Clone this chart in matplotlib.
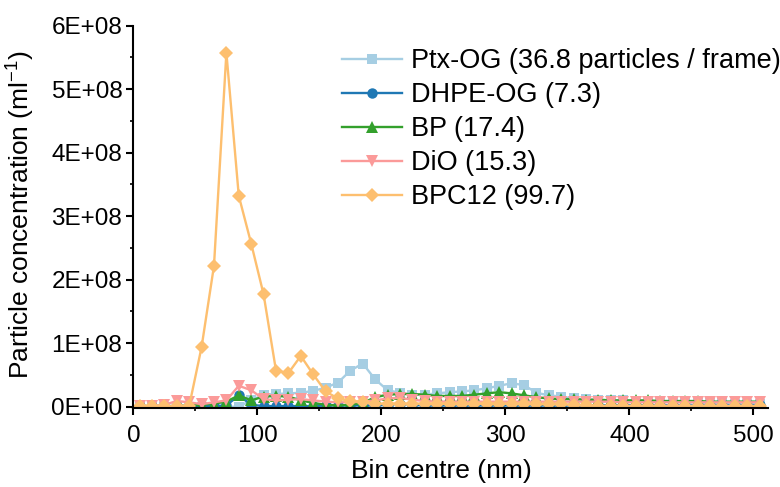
import matplotlib
matplotlib.use("Agg")
import matplotlib.pyplot as plt
from matplotlib.ticker import MultipleLocator, FuncFormatter
import numpy as np

plt.rcParams['font.family'] = ['Liberation Sans', 'DejaVu Sans']
plt.rcParams['mathtext.fontset'] = 'custom'
plt.rcParams['mathtext.rm'] = 'Liberation Sans'
plt.rcParams['mathtext.it'] = 'Liberation Sans:italic'
plt.rcParams['mathtext.bf'] = 'Liberation Sans:bold'

bin_centre = list(range(5, 506, 10))  # nm

# values in units of 1e8 particles/ml
ptx_og = [0.0, 0.0, 0.0, 0.0, 0.0, 0.0, 0.0, 0.0, 0.0, 0.10,
          0.19, 0.20, 0.21, 0.22, 0.25, 0.30, 0.38, 0.57, 0.68, 0.43,
          0.26, 0.22, 0.19, 0.19, 0.21, 0.23, 0.24, 0.26, 0.29, 0.33,
          0.37, 0.34, 0.22, 0.18, 0.16, 0.13, 0.12, 0.11, 0.10, 0.10,
          0.09, 0.09, 0.08, 0.08, 0.07, 0.07, 0.06, 0.06, 0.05, 0.05, 0.04]
dhpe_og = [0.01, 0.01, 0.01, 0.01, 0.01, 0.01, 0.01, 0.02, 0.18, 0.03,
           0.01, 0.01, 0.01, 0.01, 0.01, 0.02, 0.02, 0.02, 0.02, 0.02,
           0.03, 0.05, 0.03, 0.02, 0.02, 0.02, 0.02, 0.02, 0.02, 0.02,
           0.02, 0.02, 0.02, 0.02, 0.02, 0.02, 0.02, 0.02, 0.02, 0.02,
           0.02, 0.02, 0.02, 0.02, 0.02, 0.02, 0.02, 0.02, 0.02, 0.02, 0.02]
bp = [0.01, 0.01, 0.01, 0.01, 0.02, 0.03, 0.05, 0.08, 0.18, 0.10,
      0.16, 0.17, 0.16, 0.10, 0.06, 0.03, 0.02, 0.03, 0.06, 0.15,
      0.19, 0.20, 0.20, 0.19, 0.17, 0.17, 0.17, 0.19, 0.21, 0.23,
      0.21, 0.18, 0.15, 0.13, 0.12, 0.12, 0.11, 0.11, 0.10, 0.10,
      0.10, 0.10, 0.09, 0.09, 0.09, 0.09, 0.08, 0.08, 0.08, 0.08, 0.08]
dio = [0.01, 0.01, 0.03, 0.09, 0.07, 0.04, 0.07, 0.10, 0.33, 0.26,
       0.12, 0.10, 0.11, 0.12, 0.10, 0.08, 0.07, 0.07, 0.08, 0.10,
       0.13, 0.14, 0.11, 0.09, 0.08, 0.08, 0.08, 0.08, 0.08, 0.08,
       0.08, 0.08, 0.08, 0.08, 0.08, 0.08, 0.08, 0.08, 0.08, 0.07,
       0.07, 0.07, 0.07, 0.07, 0.07, 0.07, 0.07, 0.07, 0.07, 0.07, 0.07]
bpc12 = [0.005, 0.005, 0.005, 0.005, 0.01, 0.94, 2.22, 5.575, 3.32, 2.57,
         1.77, 0.57, 0.53, 0.80, 0.51, 0.24, 0.13, 0.09, 0.08, 0.05,
         0.05, 0.05, 0.05, 0.05, 0.05, 0.05, 0.05, 0.05, 0.05, 0.05,
         0.05, 0.05, 0.04, 0.04, 0.04, 0.03, 0.02, 0.01, 0.01, 0.01,
         0.01, 0.01, 0.01, 0.01, 0.01, 0.01, 0.01, 0.01, 0.01, 0.01, 0.01]

labels = ["Ptx-OG (36.8 particles / frame)", "DHPE-OG (7.3)", "BP (17.4)",
          "DiO (15.3)", "BPC12 (99.7)"]
colors = ["#a6cee3", "#1f78b4", "#33a02c", "#fb9a99", "#fdbf6f"]
markers = ["s", "o", "^", "v", "D"]
msizes = [7, 7.5, 8.5, 8.5, 7.5]
series = [ptx_og, dhpe_og, bp, dio, bpc12]

TICK_FS = 17.5
LABEL_FS = 19
LEG_FS = 19.5

fig = plt.figure(figsize=(7.8, 4.87), dpi=100)
ax = fig.add_axes([0.171, 0.1622, 0.814, 0.785])

x = np.array(bin_centre)
for ys, lab, c, m, ms in zip(series, labels, colors, markers, msizes):
    ax.plot(x, np.array(ys) * 1e8, color=c, marker=m, markersize=ms,
            linewidth=1.7, label=lab, markeredgewidth=0)

ax.set_xlim(0, 512)
ax.set_ylim(-0.02e8, 6e8)
ax.xaxis.set_major_locator(MultipleLocator(100))
ax.xaxis.set_minor_locator(MultipleLocator(50))
ax.yaxis.set_major_locator(MultipleLocator(1e8))
ax.yaxis.set_minor_locator(MultipleLocator(0.5e8))

def efmt(v, pos):
    if abs(v) < 1:
        return "0E+00"
    e = int(np.floor(np.log10(abs(v))))
    m = v / 10**e
    return f"{m:.0f}E+{e:02d}"

ax.yaxis.set_major_formatter(FuncFormatter(efmt))
for s in ["top", "right"]:
    ax.spines[s].set_visible(False)
for s in ["left", "bottom"]:
    ax.spines[s].set_linewidth(1.5)
ax.tick_params(which="major", direction="out", length=5, width=1.5,
               labelsize=TICK_FS)
ax.tick_params(axis="x", which="major", pad=7)
ax.tick_params(axis="y", which="major", pad=3)
ax.tick_params(which="minor", direction="out", length=2.5, width=1.2)

ax.set_xlabel("Bin centre (nm)", fontsize=LABEL_FS)
ax.set_ylabel("Particle concentration (ml$^{-1}$)", fontsize=LABEL_FS)
ax.xaxis.set_label_coords(0.485, -0.133)
ax.yaxis.set_label_coords(-0.152, 0.505)

leg = ax.legend(loc="upper left", bbox_to_anchor=(342 / 780, 1 - 48 / 487),
                bbox_transform=fig.transFigure, frameon=False,
                fontsize=LEG_FS, handlelength=2.2, handletextpad=0.33,
                labelspacing=0.3, borderaxespad=0, borderpad=0)

fig.savefig("out.png", dpi=100)
